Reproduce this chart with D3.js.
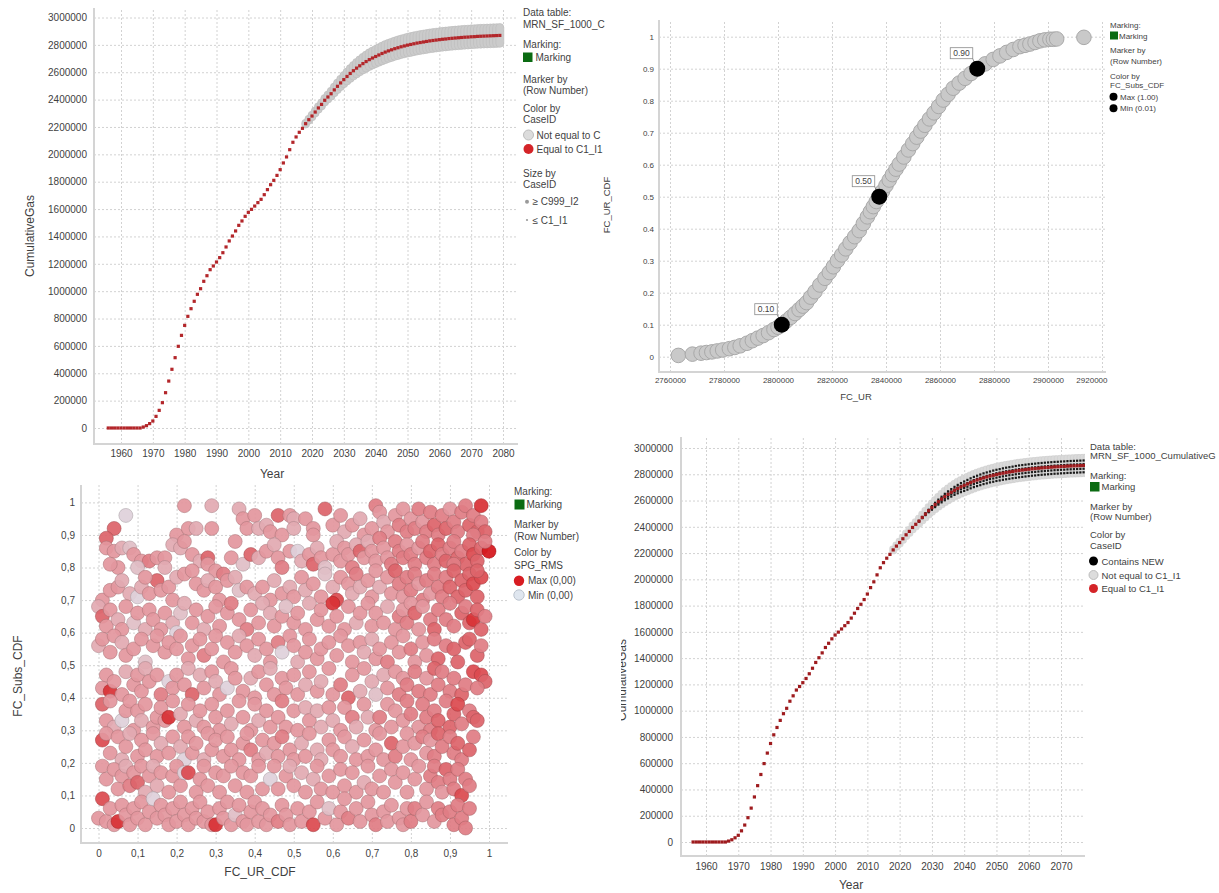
<!DOCTYPE html>
<html>
<head>
<meta charset="utf-8">
<script src="https://cdn.jsdelivr.net/npm/d3@7"></script>
<style>
  body { margin: 0; background: #fff; }
  svg text { font-family: "Liberation Sans", Arial, sans-serif; fill: #3f3f3f; }
  .grid line { stroke: #d2d2d2; stroke-dasharray: 2,2; }
  .grid .domain { display: none; }
  .ticklab .domain { display: none; }
  .frame { fill: none; stroke: #d4d4d4; stroke-width: 2; }
</style>
</head>
<body>
<svg id="chart" width="1219" height="893"></svg>
<script>
// ---- data: cumulative gas of case C1_I1 (thousands), one value per year from 1956
const gasFirstYear = 1956
const caseGasK = [0,0,0,0,0,0,0,0,0,0,0,
  7,17,32,51,85,129,185,258,343,429,514,597,677,
  750,816,872,926,977,1018,1072,1113,1157,1184,
  1213,1245,1281,1323,1367,1403,1440,1481,1513,1547,
  1576,1598,1622,1647,1671,1705,1742,1778,1810,1846,
  1888,1937,1981,2034,2088,2127,2161,2190,2224,2253,
  2280,2309,2339,2365,2395,2419,2443,2471,2497,2522,
  2546,2569,2591,2611,2630,2647,2663,2678,2692,2704,
  2715,2726,2737,2747,2756,2764,2772,2779,2786,2792,
  2798,2803,2808,2813,2817,2821,2825,2829,2832,2835,
  2838,2841,2843,2846,2848,2850,2852,2854,2856,2857,
  2859,2860,2862,2863,2864,2865,2866,2867,2868,2869]

// envelope of all other cases (thousands), from 2018
const bandFirstYear = 2018
const bandHighK = [2227,2257,2286,2316,2348,2376,2408,2434,2461,2492,
  2521,2549,2576,2602,2627,2650,2672,2691,2709,2726,
  2742,2755,2767,2779,2791,2802,2811,2820,2828,2836,
  2843,2849,2856,2861,2866,2871,2875,2879,2883,2887,
  2890,2893,2896,2899,2901,2904,2906,2908,2910,2912,
  2914,2915,2917,2918,2920,2921,2922,2923,2924,2925,2926,2927]
const bandLowK = [2221,2249,2274,2302,2330,2354,2382,2404,2425,2450,
  2473,2495,2516,2536,2555,2572,2588,2603,2617,2630,
  2642,2653,2663,2673,2683,2692,2701,2708,2716,2722,
  2729,2735,2740,2745,2750,2755,2759,2763,2767,2771,
  2774,2777,2780,2783,2785,2788,2790,2792,2794,2796,
  2798,2799,2801,2802,2804,2805,2806,2807,2808,2809,2810,2811]

// "Contains NEW" cases (thousands), from 2026
const newFirstYear = 2026
const newCaseA = [2445,2475,2503,2530,2557,2583,2607,2629,2651,2670,
  2687,2704,2719,2733,2745,2757,2769,2780,2789,2798,
  2807,2814,2821,2828,2834,2839,2845,2850,2854,2858,
  2863,2867,2870,2873,2876,2879,2881,2884,2886,2888,
  2890,2892,2894,2895,2897,2898,2900,2901,2902,2903,2904,2905]
const newCaseB = [2444,2472,2499,2524,2549,2573,2595,2616,2635,2653,
  2669,2685,2699,2712,2723,2734,2745,2756,2765,2773,
  2781,2788,2795,2801,2808,2813,2818,2823,2827,2831,
  2835,2839,2842,2845,2848,2851,2853,2856,2858,2860,
  2862,2864,2866,2867,2869,2870,2872,2873,2874,2875,2876,2877]
const newCaseC = [2442,2468,2493,2516,2538,2560,2580,2599,2616,2632,
  2647,2661,2674,2685,2695,2705,2716,2725,2734,2741,
  2749,2756,2763,2768,2774,2779,2784,2789,2793,2796,
  2800,2804,2807,2810,2813,2816,2818,2821,2823,2825,
  2827,2829,2831,2832,2834,2835,2837,2838,2839,2840,2841,2842]
const newCaseD = [2440,2466,2489,2511,2530,2550,2569,2586,2602,2616,
  2630,2643,2655,2664,2673,2683,2693,2702,2710,2717,
  2725,2731,2738,2743,2749,2753,2758,2762,2766,2770,
  2773,2777,2780,2783,2786,2789,2791,2794,2796,2798,
  2800,2802,2804,2805,2807,2808,2810,2811,2812,2813,2814,2815]

// FC_UR vs FC_UR_CDF
const urCdf = [[2763100,0.004],[2768300,0.008],[2771500,0.011],[2773500,0.013],[2775500,0.015],
  [2777500,0.018],[2779500,0.021],[2782000,0.025],[2784000,0.029],[2786000,0.034],
  [2788500,0.042],[2790500,0.050],[2792500,0.058],[2794500,0.066],[2796500,0.075],
  [2798500,0.085],[2800000,0.092],[2801400,0.100],[2803000,0.111],[2804700,0.123],
  [2806300,0.135],[2807800,0.147],[2809200,0.158],[2810600,0.169],[2812100,0.186],
  [2813700,0.203],[2815500,0.224],[2817400,0.245],[2819000,0.263],[2820500,0.281],
  [2822000,0.300],[2823600,0.318],[2825100,0.337],[2826700,0.356],[2828400,0.375],
  [2830100,0.394],[2831600,0.416],[2833100,0.437],[2834200,0.453],[2835300,0.469],
  [2836400,0.485],[2837500,0.500],[2838700,0.517],[2840000,0.535],[2841200,0.552],
  [2842400,0.569],[2843700,0.586],[2844900,0.602],[2846600,0.624],[2848300,0.646],
  [2849900,0.666],[2851400,0.686],[2852900,0.705],[2854400,0.723],[2856100,0.743],
  [2857800,0.762],[2859500,0.782],[2861200,0.802],[2863000,0.820],[2864900,0.839],
  [2867100,0.855],[2869300,0.870],[2871500,0.885],[2873800,0.899],[2876700,0.915],
  [2879700,0.929],[2882200,0.940],[2884700,0.951],[2887100,0.960],[2889600,0.969],
  [2891500,0.973],[2893300,0.977],[2895200,0.982],[2897000,0.987],[2898800,0.990],
  [2900700,0.992],[2902000,0.992],[2903200,0.993],[2913300,0.998]]
const urMarked = [[2801400,0.10,"0.10"],[2837500,0.50,"0.50"],[2873800,0.90,"0.90"]]

// FC_UR_CDF (x, %), FC_Subs_CDF (y, %), SPG_RMS colour level 0..9
const subsScatter = `07,96,1;04,92,6;02,89,6;20,90,4;22,99,4;23,92,4;25,92,3;29,99,3;29,92,4;36,98,3;37,95,4;38,92,4;40,96,4;41,92,3;43,93,3;44,91,4;46,96,6;47,90,4;49,96,4;50,95,3;50,92,3;53,95,4;55,92,4;55,90,4;58,98,6;60,93,4;62,96,4;63,91,3;65,93,4;67,95,3;68,90,4;70,92,4;71,99,5;72,97,4;73,94,3;74,91,4;76,96,4;77,93,5;78,98,4;79,91,5;80,95,4;81,92,5;82,98,5;83,94,4;84,91,5;85,97,5;86,93,6;87,90,5;88,96,5;89,92,6;90,98,4;91,94,5;92,91,5;93,97,5;94,99,5;95,93,6;96,96,5;97,91,6;98,99,8;98,94,5;99,91,6;96,90,5;
02,86,4;04,85,4;06,86,3;08,86,2;09,84,4;11,82,4;13,82,5;15,83,4;17,83,4;05,80,4;03,81,4;10,80,2;17,80,3;19,87,3;21,86,3;22,88,4;24,84,4;26,82,3;28,83,6;28,81,4;30,79,4;32,78,5;34,83,4;35,88,4;37,81,2;39,84,6;41,83,3;43,85,4;45,87,3;46,83,4;47,80,5;49,85,4;51,85,1;52,82,3;54,84,4;55,81,6;56,86,3;57,83,4;58,80,2;60,84,4;61,88,3;62,82,4;63,86,4;64,84,4;65,80,5;66,87,3;67,85,6;68,83,4;69,88,3;70,85,4;71,82,4;72,89,5;73,86,4;74,83,4;75,81,5;76,88,5;77,85,5;78,83,5;79,87,4;80,84,5;81,81,5;82,86,4;83,88,5;84,83,5;85,85,6;86,81,5;87,87,6;88,84,5;89,82,6;90,86,5;91,88,5;92,83,6;93,85,5;94,81,6;95,87,6;96,84,7;97,82,6;98,86,6;100,85,9;99,88,5;91,81,5;
01,70,4;03,73,4;05,74,4;06,76,3;08,72,3;10,71,1;11,74,3;13,72,4;15,76,6;16,73,4;18,74,4;19,70,4;12,77,4;20,77,3;22,78,4;24,79,4;25,75,4;27,73,4;28,76,3;30,74,4;31,70,4;33,76,4;35,77,3;36,73,2;38,74,4;40,72,3;42,74,4;44,70,4;45,76,3;47,72,4;49,74,3;50,71,4;52,77,4;53,73,3;55,75,4;57,71,4;58,78,2;60,74,3;61,70,7;62,77,4;64,75,4;65,72,3;66,78,5;67,74,3;69,76,4;70,71,4;71,79,4;72,74,3;74,77,4;75,72,4;76,79,6;77,75,5;78,71,4;79,77,5;80,73,5;81,78,5;82,75,4;83,70,5;84,76,5;85,72,4;86,78,5;87,74,5;88,71,5;89,77,5;90,74,6;91,79,6;92,71,6;93,76,6;94,73,6;95,78,6;96,75,7;97,71,6;98,77,7;97,79,6;
00,68,3;01,65,6;02,62,4;03,67,4;05,64,3;06,61,4;07,68,4;09,63,2;10,66,4;12,61,3;13,67,4;14,64,4;16,61,4;17,66,4;19,63,3;20,60,1;21,66,2;22,69,3;24,63,4;25,67,4;27,61,3;28,65,4;30,68,4;31,62,4;33,66,4;34,69,5;36,64,4;38,61,5;39,67,4;41,63,4;42,69,3;44,66,3;45,62,4;47,65,4;48,68,2;50,63,4;51,66,4;53,61,4;54,69,3;56,64,4;57,67,4;59,62,4;60,69,8;61,65,4;63,61,4;64,68,4;66,63,3;67,66,4;69,69,4;70,62,4;71,66,4;73,63,4;74,68,3;76,61,4;77,65,5;78,67,4;79,63,5;80,69,4;81,66,6;82,61,4;83,68,4;85,64,5;86,61,6;87,67,5;89,64,5;90,69,5;91,62,5;93,66,6;94,68,5;95,63,6;96,64,8;97,67,6;98,61,6;99,65,5;
00,56,3;01,58,4;03,54,4;04,59,4;06,57,3;07,53,4;09,55,4;11,58,4;12,51,2;14,56,4;15,59,4;17,54,4;18,57,4;20,55,4;21,59,4;23,52,4;24,56,4;26,58,4;27,53,5;29,55,4;30,59,4;32,51,4;33,57,4;35,54,4;36,59,3;38,56,4;40,53,3;41,58,4;43,55,4;44,51,4;46,57,5;47,54,1;49,59,4;50,56,4;51,51,3;53,54,4;54,58,4;56,52,4;57,55,4;59,57,4;61,53,4;62,59,4;64,56,4;65,51,4;67,57,4;68,54,3;70,58,3;71,52,4;72,55,4;74,51,5;75,57,4;77,54,4;78,59,4;80,55,5;81,51,4;83,57,4;84,53,4;86,58,5;87,52,6;89,56,5;91,55,6;92,51,6;94,57,6;95,58,6;97,53,6;98,56,5;
01,43,4;02,47,4;03,42,8;04,45,4;06,41,4;07,48,3;09,44,4;10,47,4;11,42,4;12,49,3;13,45,4;15,47,4;16,41,5;18,45,1;19,43,4;20,47,4;22,44,4;23,49,3;24,41,6;26,47,3;27,43,4;29,48,4;30,45,3;31,41,4;33,43,1;34,49,4;35,46,4;37,42,4;39,46,3;40,40,4;41,48,4;43,44,4;44,49,3;45,41,4;47,46,4;48,43,4;50,47,4;51,41,4;53,44,3;54,48,4;56,42,4;57,45,3;59,49,4;60,41,4;62,44,5;64,40,6;65,47,4;67,42,3;68,49,4;70,45,3;71,41,2;73,47,3;74,43,4;76,48,4;77,41,5;78,46,4;79,44,5;81,48,5;82,42,5;84,46,4;85,41,5;86,49,6;87,44,5;88,48,5;90,42,5;91,46,5;93,41,6;94,44,5;96,48,7;98,47,7;99,45,6;97,43,5;
01,38,6;02,33,4;03,39,4;04,31,3;06,33,1;07,36,4;08,39,4;09,30,4;10,36,4;11,33,3;12,38,4;14,31,4;15,34,4;16,37,4;17,33,4;18,34,8;19,39,4;21,35,3;22,31,4;23,38,4;25,33,3;26,36,4;27,31,4;29,38,4;30,34,4;31,30,4;33,36,4;34,32,3;36,39,4;37,34,4;39,30,4;40,38,4;41,33,3;43,36,4;44,31,4;46,34,4;47,39,5;48,31,4;50,36,4;51,30,4;53,37,3;54,33,4;56,36,3;57,31,3;59,37,4;60,33,3;62,30,4;63,37,4;65,34,5;66,31,3;68,38,4;69,34,3;71,30,4;72,34,5;74,38,4;75,31,4;76,36,4;78,33,4;79,39,5;80,35,5;82,31,4;83,38,5;84,34,5;85,30,5;86,36,5;87,33,6;89,39,5;90,31,6;91,35,6;92,38,7;93,32,5;95,36,5;96,34,6;97,33,6;
01,27,7;02,29,4;03,23,4;05,28,4;06,21,3;07,25,4;08,29,3;10,22,4;11,27,4;12,24,4;14,29,4;15,22,4;16,26,3;18,23,4;19,28,4;21,25,3;22,21,1;23,28,4;24,23,4;25,26,4;27,21,3;28,29,4;29,24,4;30,27,4;32,22,4;33,28,4;34,24,4;36,21,4;37,26,4;38,29,4;39,24,5;41,21,4;42,27,4;43,23,3;45,26,4;46,22,4;47,28,5;49,24,4;50,21,4;52,26,3;53,22,4;54,29,4;56,24,3;57,21,3;59,27,4;60,24,4;62,22,4;63,28,4;65,25,3;66,21,4;68,27,4;69,22,4;71,24,4;72,29,4;73,21,4;75,26,6;76,22,5;78,25,4;79,29,4;80,21,4;81,26,4;83,28,5;84,23,4;85,27,4;86,22,5;87,29,6;88,25,5;90,28,5;91,23,5;92,26,6;93,21,5;95,24,6;96,28,5;
01,19,4;02,15,4;04,18,4;05,12,4;06,16,4;07,19,3;08,13,5;09,17,4;10,14,6;11,19,4;12,11,3;13,16,4;14,19,3;15,13,3;16,17,4;18,11,4;19,16,4;20,19,4;21,13,4;22,17,1;23,17,7;25,11,4;26,15,4;27,19,4;28,13,4;30,17,4;31,11,4;32,16,4;34,19,4;35,13,4;37,17,4;38,11,4;39,16,4;41,19,4;42,12,4;44,15,1;45,19,4;46,12,4;48,16,4;49,19,3;50,13,4;52,17,3;53,11,4;55,15,3;56,19,4;57,12,4;59,16,4;60,11,4;62,18,4;63,13,4;65,17,4;66,11,4;68,14,3;69,19,4;70,12,4;72,16,4;73,11,4;75,18,4;76,14,4;78,17,4;79,11,4;81,15,4;82,19,4;84,12,4;85,16,5;86,19,5;87,14,5;88,11,4;89,18,6;90,15,5;91,12,5;92,18,5;93,10,7;94,15,5;95,13,5;
00,03,4;01,09,7;02,02,4;03,06,4;04,01,4;05,02,8;06,07,4;07,04,4;08,01,4;09,06,4;10,03,4;11,08,4;12,01,4;13,05,4;14,09,1;15,03,4;16,07,4;17,04,4;18,01,4;19,06,4;20,02,4;21,08,4;22,04,4;23,01,4;24,06,4;25,03,4;26,08,4;27,02,4;28,05,4;29,01,4;30,01,8;31,06,4;32,03,4;33,08,4;34,01,4;35,04,2;36,07,4;37,02,4;38,01,4;39,05,4;40,08,4;41,02,4;42,06,4;43,01,4;44,04,4;46,02,5;47,07,4;48,04,4;49,01,4;51,06,4;52,02,4;54,05,4;55,01,7;56,08,4;58,03,4;59,06,2;61,01,4;62,05,4;63,09,4;64,03,5;66,06,4;67,02,4;69,08,4;70,04,4;71,01,5;73,05,4;74,02,4;75,07,4;77,03,4;78,01,4;79,06,4;80,02,5;81,06,5;83,04,4;84,08,4;86,02,4;87,06,5;88,04,5;90,05,5;91,01,5;92,07,5;93,03,5;94,00,5;95,06,5`

const svg = d3.select("#chart")
svg.append("rect").attr("width", 1219).attr("height", 893).attr("fill", "#fff")

const fmtDec = d => d === 0 ? "0" : d === 1 ? "1" : d.toFixed(1)
const fmtComma = d => fmtDec(d).replace(".", ",")

// grid, frame and tick labels of one panel
function drawFrame(p) {
  const g = svg.append("g")
  g.append("g").attr("class", "grid").attr("transform", `translate(${p.l},0)`)
    .call(d3.axisLeft(p.y).tickValues(p.yTicks).tickSize(-(p.r - p.l)).tickFormat(""))
  g.append("g").attr("class", "grid").attr("transform", `translate(0,${p.b})`)
    .call(d3.axisBottom(p.x).tickValues(p.xTicks).tickSize(-(p.b - p.t)).tickFormat(""))
  g.append("path").attr("class", "frame").attr("d", `M${p.l},${p.t}V${p.b}H${p.r}`)
  const ya = g.append("g").attr("class", "ticklab").attr("transform", `translate(${p.l},0)`)
    .call(d3.axisLeft(p.y).tickValues(p.yTicks).tickSize(0).tickPadding(p.padY).tickFormat(p.yFmt))
  const xa = g.append("g").attr("class", "ticklab").attr("transform", `translate(0,${p.b})`)
    .call(d3.axisBottom(p.x).tickValues(p.xTicks).tickSize(0).tickPadding(p.padX).tickFormat(p.xFmt))
  g.selectAll(".ticklab text").attr("font-size", p.fs).attr("fill", "#444")
  return xa
}

function label(x, y, s, fs, rot) {
  const t = svg.append("text").attr("font-size", fs).attr("text-anchor", "middle").text(s)
  if (rot) t.attr("transform", `translate(${x},${y}) rotate(-90)`)
  else t.attr("x", x).attr("y", y)
  return t
}
function legText(x, y, s, fs) {
  svg.append("text").attr("x", x).attr("y", y).attr("font-size", fs).attr("fill", "#3a3a3a").text(s)
}
function legDot(x, y, r, fill, stroke) {
  svg.append("circle").attr("cx", x).attr("cy", y).attr("r", r).attr("fill", fill).attr("stroke", stroke || "none")
}
function legSquare(x, y, s) {
  svg.append("rect").attr("x", x).attr("y", y).attr("width", s).attr("height", s).attr("fill", "#0b6b12")
}

const gasTicks = d3.range(0, 3000001, 200000)
const yearOf = (first, i) => first + i

// ================= Panel 1: CumulativeGas vs Year =================
const p1 = {l: 94, r: 518, t: 8, b: 444, fs: 10, padY: 7, padX: 6,
  x: d3.scaleLinear().domain([1960, 2080]).range([121, 503]),
  y: d3.scaleLinear().domain([0, 3000000]).range([428, 17.5]),
  xTicks: d3.range(1960, 2081, 10), yTicks: gasTicks,
  xFmt: d3.format("d"), yFmt: d3.format("d")}
drawFrame(p1)

svg.append("g").selectAll("rect").data(bandHighK).join("rect")
  .attr("x", (d, i) => p1.x(yearOf(bandFirstYear, i)) - 4)
  .attr("y", d => p1.y(d * 1000) - 4)
  .attr("width", 8)
  .attr("height", (d, i) => p1.y(bandLowK[i] * 1000) - p1.y(d * 1000) + 8)
  .attr("rx", 4)
  .attr("fill", "#cbcbcb").attr("stroke", "#bcbcbc").attr("stroke-width", 0.6)

svg.append("g").selectAll("rect").data(caseGasK).join("rect")
  .attr("x", (d, i) => p1.x(yearOf(gasFirstYear, i)) - 1.6)
  .attr("y", d => p1.y(d * 1000) - 1.6)
  .attr("width", 3.2).attr("height", 3.2)
  .attr("fill", "#b3262a")

label(34, 236, "CumulativeGas", 12, true)
label(272, 478, "Year", 12)

legText(523, 16, "Data table:", 10)
legText(523, 28, "MRN_SF_1000_C", 10)
legText(523, 48, "Marking:", 10)
legSquare(523, 52.5, 9.5)
legText(535.5, 61, "Marking", 10)
legText(523, 82.5, "Marker by", 10)
legText(523, 93.5, "(Row Number)", 10)
legText(523, 111.5, "Color by", 10)
legText(523, 122.5, "CaseID", 10)
legDot(528.5, 135, 5, "#dcdcdc", "#bdbdbd")
legText(536.5, 138.5, "Not equal to C", 10)
legDot(528.5, 149, 5, "#d42428")
legText(536.5, 152.5, "Equal to C1_I1", 10)
legText(523, 176.5, "Size by", 10)
legText(523, 187.5, "CaseID", 10)
legDot(527, 201.7, 2, "#9a9a9a")
legText(532.5, 205.2, "≥ C999_I2", 10)
legDot(527, 220, 1.1, "#9a9a9a")
legText(532.5, 223.5, "≤ C1_I1", 10)

// ================= Panel 2: FC_UR_CDF vs FC_UR =================
const p2 = {l: 659, r: 1106, t: 20, b: 372, fs: 8, padY: 5, padX: 5,
  x: d3.scaleLinear().domain([2760000, 2920000]).range([670, 1102]),
  y: d3.scaleLinear().domain([0, 1]).range([356.7, 36.7]),
  xTicks: d3.range(2760000, 2920001, 20000), yTicks: d3.range(0, 1.0001, 0.1).map(v => +v.toFixed(1)),
  xFmt: d3.format("d"), yFmt: fmtDec}
const xa2 = drawFrame(p2)
xa2.selectAll("text").filter(d => d === 2920000).attr("text-anchor", "end").attr("x", 5)

svg.append("g").selectAll("circle").data(urCdf).join("circle")
  .attr("cx", d => p2.x(d[0])).attr("cy", d => p2.y(d[1])).attr("r", 7.3)
  .attr("fill", "#c9c9c9").attr("stroke", "#a9a9a9").attr("stroke-width", 1)

const marks = svg.append("g")
urMarked.forEach(d => {
  const cx = p2.x(d[0]), cy = p2.y(d[1])
  marks.append("line").attr("x1", cx - 4.5).attr("y1", cy - 10).attr("x2", cx - 2).attr("y2", cy - 4)
    .attr("stroke", "#777").attr("stroke-width", 0.8)
  marks.append("rect").attr("x", cx - 27).attr("y", cy - 21).attr("width", 22.5).attr("height", 11)
    .attr("fill", "#fff").attr("stroke", "#8a8a8a").attr("stroke-width", 0.8)
  marks.append("text").attr("x", cx - 15.75).attr("y", cy - 12.5).attr("text-anchor", "middle")
    .attr("font-size", 8.5).attr("fill", "#333").text(d[2])
  marks.append("circle").attr("cx", cx).attr("cy", cy).attr("r", 8).attr("fill", "#000")
})

label(856, 400, "FC_UR", 9.5)
label(610, 205, "FC_UR_CDF", 9.5, true)

legText(1110, 28, "Marking:", 8)
legSquare(1110, 31.5, 8)
legText(1119, 38.5, "Marking", 8)
legText(1110, 53, "Marker by", 8)
legText(1110, 64, "(Row Number)", 8)
legText(1110, 79, "Color by", 8)
legText(1110, 88, "FC_Subs_CDF", 8)
legDot(1113.5, 96.7, 4, "#000")
legText(1120, 99.7, "Max (1.00)", 8)
legDot(1113.5, 108.3, 4, "#000")
legText(1120, 111.3, "Min (0.01)", 8)

// ================= Panel 3: FC_Subs_CDF vs FC_UR_CDF =================
const p3 = {l: 81, r: 508, t: 485, b: 843, fs: 10, padY: 6, padX: 6.4,
  x: d3.scaleLinear().domain([0, 1]).range([98.5, 489]),
  y: d3.scaleLinear().domain([0, 1]).range([828, 502.4]),
  xTicks: d3.range(0, 1.0001, 0.1).map(v => +v.toFixed(1)), yTicks: d3.range(0, 1.0001, 0.1).map(v => +v.toFixed(1)),
  xFmt: fmtComma, yFmt: fmtComma}
drawFrame(p3)

const scatterRows = subsScatter.split(";").map(s => s.trim()).filter(s => s).map(s => s.split(",").map(Number))
const spgColor = d3.scaleLinear().domain([0, 4, 9]).range(["#dde4ee", "#e3979e", "#d5171c"]).interpolate(d3.interpolateRgb)
svg.append("g").selectAll("circle").data(scatterRows).join("circle")
  .attr("cx", d => p3.x(d[0] / 100)).attr("cy", d => p3.y(d[1] / 100)).attr("r", 7)
  .attr("fill", d => spgColor(d[2])).attr("fill-opacity", 0.93)
  .attr("stroke", d => d3.color(spgColor(d[2])).darker(0.9)).attr("stroke-opacity", 0.55).attr("stroke-width", 0.9)

label(260, 876, "FC_UR_CDF", 12)
label(22, 676, "FC_Subs_CDF", 12, true)

legText(514, 495, "Marking:", 10)
legSquare(514.5, 499.5, 10)
legText(526.5, 507.5, "Marking", 10)
legText(514, 527.5, "Marker by", 10)
legText(514, 540, "(Row Number)", 10)
legText(514, 556, "Color by", 10)
legText(514, 569, "SPG_RMS", 10)
legDot(519, 580.7, 5.2, "#d81c22")
legText(528, 584.2, "Max (0,00)", 10)
legDot(519, 595, 5.2, "#dfe6ef", "#bcc4cf")
legText(528, 598.5, "Min (0,00)", 10)

// ================= Panel 4: CumulativeGas vs Year (with NEW cases) =================
const p4 = {l: 681, r: 1085, t: 437, b: 856, fs: 10, padY: 8, padX: 6.4,
  x: d3.scaleLinear().domain([1960, 2070]).range([706, 1061]),
  y: d3.scaleLinear().domain([0, 3000000]).range([842, 448]),
  xTicks: d3.range(1960, 2071, 10), yTicks: gasTicks,
  xFmt: d3.format("d"), yFmt: d3.format("d")}
drawFrame(p4)

svg.append("clipPath").attr("id", "clip4").append("rect")
  .attr("x", p4.l).attr("y", p4.t).attr("width", p4.r - p4.l).attr("height", p4.b - p4.t)
const g4 = svg.append("g").attr("clip-path", "url(#clip4)")

g4.append("g").selectAll("rect").data(bandHighK).join("rect")
  .attr("x", (d, i) => p4.x(yearOf(bandFirstYear, i)) - 3.5)
  .attr("y", d => p4.y(d * 1000) - 3.5)
  .attr("width", 7)
  .attr("height", (d, i) => p4.y(bandLowK[i] * 1000) - p4.y(d * 1000) + 7)
  .attr("rx", 2)
  .attr("fill", "#dadada").attr("stroke", "#cbcbcb").attr("stroke-width", 0.5)

;[newCaseA, newCaseB, newCaseC, newCaseD].forEach(series => {
  g4.append("g").selectAll("rect").data(series).join("rect")
    .attr("x", (d, i) => p4.x(yearOf(newFirstYear, i)) - 1.1)
    .attr("y", d => p4.y(d * 1000) - 1.1)
    .attr("width", 2.2).attr("height", 2.2).attr("fill", "#1a1a1a")
})

g4.append("g").selectAll("rect").data(caseGasK).join("rect")
  .attr("x", (d, i) => p4.x(yearOf(gasFirstYear, i)) - 1.6)
  .attr("y", d => p4.y(d * 1000) - 1.6)
  .attr("width", 3.2).attr("height", 3.2)
  .attr("fill", "#9e1b1e")

label(851, 889, "Year", 12)
svg.append("clipPath").attr("id", "clipTitle4").append("rect")
  .attr("x", 621).attr("y", 560).attr("width", 20).attr("height", 240)
svg.append("g").attr("clip-path", "url(#clipTitle4)")
  .append("text").attr("transform", "translate(626,680) rotate(-90)")
  .attr("text-anchor", "middle").attr("font-size", 12).text("CumulativeGas")

legText(1090, 449.5, "Data table:", 9.5)
legText(1090, 459, "MRN_SF_1000_CumulativeG", 9.5)
legText(1090, 479, "Marking:", 9.5)
legSquare(1090, 482, 9.5)
legText(1101.5, 490.3, "Marking", 9.5)
legText(1090, 510, "Marker by", 9.5)
legText(1090, 520, "(Row Number)", 9.5)
legText(1090, 538.3, "Color by", 9.5)
legText(1090, 548.5, "CaseID", 9.5)
legDot(1093.5, 561, 4.5, "#000")
legText(1101.5, 564.5, "Contains NEW", 9.5)
legDot(1093.5, 575, 4.5, "#dcdcdc", "#bdbdbd")
legText(1101.5, 578.5, "Not equal to C1_I1", 9.5)
legDot(1093.5, 588.5, 4.5, "#d42428")
legText(1101.5, 592, "Equal to C1_I1", 9.5)
</script>
</body>
</html>
